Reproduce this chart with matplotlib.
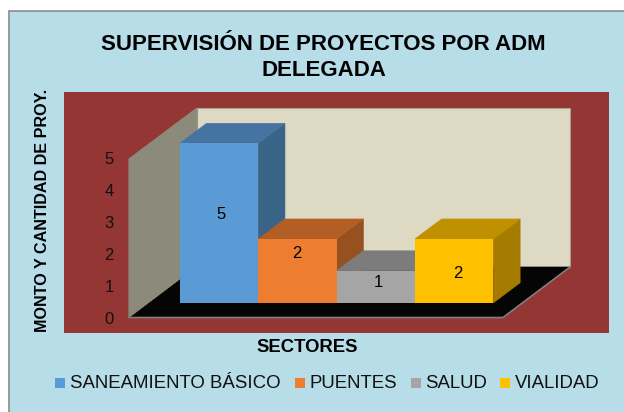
import matplotlib
matplotlib.use('Agg')
import matplotlib.pyplot as plt
from matplotlib.patches import Polygon, Rectangle

plt.rcParams['font.family'] = ['Liberation Sans', 'DejaVu Sans']

# datos del grafico
sectores = ['SANEAMIENTO BÁSICO', 'PUENTES', 'SALUD', 'VIALIDAD']
proyectos = [5, 2, 1, 2]
y_ticks = [0, 1, 2, 3, 4, 5]

colores = ['#5B9BD5', '#ED7D31', '#A5A5A5', '#FFC000']
colores_top = ['#4674A1', '#B25E25', '#7C7C7C', '#BF9000']
colores_side = ['#3A6388', '#97501F', '#696969', '#A67C00']

W, H = 624, 412
# escala de la zona de dibujo (pixeles)
PX_CAT, PX_VAL = 78.4, 31.85
X0_PX, Y0_PX = 179.8, 302.7
AX_L, AX_R, AX_T, AX_B = 64, 609, 92, 333

fig = plt.figure(figsize=(W / 100, H / 100), dpi=100, facecolor='white')

# fondo celeste con borde gris
bg = fig.add_axes([0, 0, 1, 1])
bg.set_xlim(0, W)
bg.set_ylim(H, 0)
bg.axis('off')
bg.add_patch(Rectangle((8.5, 10.5), W, H, facecolor='#B7DDE8', edgecolor='#8C8C8C', lw=1.2))

ax = fig.add_axes([AX_L / W, 1 - AX_B / H, (AX_R - AX_L) / W, (AX_B - AX_T) / H])
ax.set_facecolor('#943634')
ax.set_xlim((AX_L - X0_PX) / PX_CAT, (AX_R - X0_PX) / PX_CAT)
ax.set_ylim((Y0_PX - AX_B) / PX_VAL, (Y0_PX - AX_T) / PX_VAL)
for s in ax.spines.values():
    s.set_visible(False)
ax.set_xticks([])
ax.set_yticks([])


def px(x, y):
    return (x - X0_PX) / PX_CAT, (Y0_PX - y) / PX_VAL


# paredes y piso
ax.add_patch(Polygon([px(197, 108), px(570, 108), px(570, 267), px(197, 267)],
                     facecolor='#DDD9C3', edgecolor='#A6A394', lw=0.8))
ax.add_patch(Polygon([px(129, 159), px(197, 108), px(197, 267), px(129, 317)],
                     facecolor='#8C8B7B', edgecolor='#8C8B7B', lw=0.8))
ax.add_patch(Polygon([px(131, 317), px(197, 267), px(570, 267), px(503, 317)],
                     facecolor='#050505', edgecolor='#050505', lw=0.5))
ax.plot(*zip(px(129, 317.5), px(503, 317.5), px(570, 267)), color='#7F7F7F', lw=1.2)

dx, dy = 26.7 / PX_CAT, 20 / PX_VAL
pos = list(range(len(proyectos)))

# caras laterales y superiores
for i, v in zip(pos, proyectos):
    ax.add_patch(Polygon([(i + 1, 0), (i + 1 + dx, dy), (i + 1 + dx, v + dy), (i + 1, v)],
                         facecolor=colores_side[i], edgecolor=colores_side[i], lw=0.5, zorder=3))
    ax.add_patch(Polygon([(i, v), (i + dx, v + dy), (i + 1 + dx, v + dy), (i + 1, v)],
                         facecolor=colores_top[i], edgecolor=colores_top[i], lw=0.5, zorder=3))

ax.bar(pos, proyectos, width=1, align='edge', color=colores, zorder=4)

# etiquetas de datos, cada una corrida a mano como en el original
label_dx = [0.52, 0.49, 0.53, 0.54]
label_dy = [2.78, 1.56, 0.62, 0.93]
for i, v, a, b in zip(pos, proyectos, label_dx, label_dy):
    ax.text(i + a, b, str(v), ha='center', va='center', fontsize=12, color='black', zorder=5)

# marcas del eje y
for t in y_ticks:
    ax.text((109 - X0_PX) / PX_CAT, (Y0_PX - 319) / PX_VAL + t * 31.8 / PX_VAL, str(t),
            ha='center', va='center', fontsize=12, color='#111111', zorder=5)

fig.text(323.5 / W, 1 - 44 / H, 'SUPERVISIÓN DE PROYECTOS POR ADM', ha='center', va='center',
         fontsize=16, fontweight='bold')
fig.text(323.5 / W, 1 - 70 / H, 'DELEGADA', ha='center', va='center', fontsize=16, fontweight='bold')
fig.text(43 / W, 1 - 210 / H, 'MONTO Y CANTIDAD DE PROY.', rotation=90, ha='center', va='center',
         fontsize=11.6, fontweight='bold')
fig.text(307 / W, 1 - 347 / H, 'SECTORES', ha='center', va='center', fontsize=13.3, fontweight='bold')

leg_x = [55, 295, 411, 500]
for xp, c, name in zip(leg_x, colores, sectores):
    bg.add_patch(Rectangle((xp, 378), 9.5, 10, facecolor=c, edgecolor='none'))
    fig.text((xp + 14.5) / W, 1 - 383 / H, name, ha='left', va='center', fontsize=13.4, color='#111111')

fig.savefig('out.png', dpi=100)
